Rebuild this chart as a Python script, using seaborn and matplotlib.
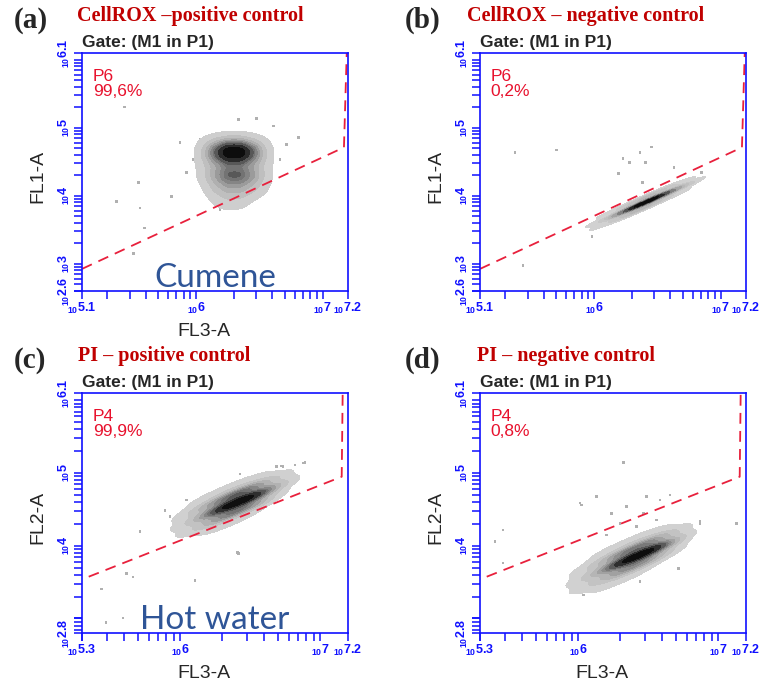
import numpy as np
import pandas as pd
import seaborn as sns
import matplotlib.pyplot as plt
from matplotlib.colors import LinearSegmentedColormap

sns.set_style("white")
plt.rcParams["font.family"] = ["Liberation Sans", "DejaVu Sans"]
plt.rcParams["mathtext.fontset"] = "custom"
plt.rcParams["mathtext.bf"] = "Liberation Sans:bold"
plt.rcParams["mathtext.rm"] = "Liberation Sans"

# density on a coarse grid (log10 units): x, y, weight
# (a) two stacked populations
a_x = [6.05, 6.15, 6.25, 6.35, 6.45, 6.55] * 6
a_y = ([4.80] * 6 + [4.65] * 6 + [4.50] * 6 + [4.30] * 6 + [4.10] * 6 + [3.90] * 6)
a_w = [0.4, 0.8, 1.2, 1.2, 0.8, 0.4,
       1.0, 5.0, 10.0, 10.0, 5.0, 1.0,
       0.8, 2.0, 3.0, 3.0, 2.0, 0.8,
       0.8, 3.0, 5.5, 5.5, 3.5, 1.0,
       0.3, 1.5, 2.5, 2.5, 1.5, 0.5,
       0.0, 0.5, 1.0, 0.8, 0.2, 0.0]

# (b) thin diagonal population: centre row, upper row, lower row
b_x = [6.0, 6.1, 6.2, 6.3, 6.4, 6.5, 6.6, 6.7, 6.8] * 3
b_y = [3.59, 3.67, 3.74, 3.82, 3.90, 3.98, 4.06, 4.13, 4.21,
       3.66, 3.74, 3.81, 3.89, 3.97, 4.05, 4.13, 4.20, 4.28,
       3.52, 3.60, 3.67, 3.75, 3.83, 3.91, 3.99, 4.06, 4.14]
b_w = [0.5, 1.0, 3.0, 7.0, 10.0, 8.0, 4.0, 1.5, 0.5,
       0.2, 0.4, 0.8, 1.5, 2.0, 1.8, 1.0, 0.5, 0.2,
       0.4, 0.6, 1.2, 2.0, 2.0, 1.5, 0.8, 0.4, 0.1]

# (c) broad diagonal population: centre, +1, -1, +2, -2 rows
c_x = [5.95, 6.05, 6.15, 6.25, 6.35, 6.45, 6.55, 6.65, 6.75, 6.85] * 5
c_y = [4.24, 4.31, 4.39, 4.47, 4.55, 4.63, 4.70, 4.78, 4.86, 4.94,
       4.36, 4.43, 4.51, 4.59, 4.67, 4.75, 4.82, 4.90, 4.98, 5.06,
       4.12, 4.19, 4.27, 4.35, 4.43, 4.51, 4.58, 4.66, 4.74, 4.82,
       4.48, 4.55, 4.63, 4.71, 4.79, 4.87, 4.94, 5.02, 5.10, 5.18,
       4.00, 4.07, 4.15, 4.23, 4.31, 4.39, 4.46, 4.54, 4.62, 4.70]
c_w = [0.3, 1.0, 2.5, 6.0, 9.0, 10.0, 7.0, 3.5, 1.0, 0.2,
       0.3, 0.8, 2.0, 3.5, 5.0, 5.0, 3.5, 1.5, 0.5, 0.1,
       0.2, 0.6, 1.5, 3.0, 4.5, 4.5, 3.0, 1.0, 0.3, 0.0,
       0.1, 0.3, 0.5, 0.7, 0.8, 0.7, 0.5, 0.3, 0.1, 0.0,
       0.0, 0.1, 0.3, 0.5, 0.6, 0.5, 0.3, 0.1, 0.0, 0.0]

# (d) diagonal population below the gate
d_x = [5.95, 6.05, 6.15, 6.25, 6.35, 6.45, 6.55, 6.65, 6.75, 6.85] * 5
d_y = [3.48, 3.56, 3.64, 3.72, 3.80, 3.88, 3.96, 4.03, 4.11, 4.19,
       3.60, 3.68, 3.76, 3.84, 3.92, 4.00, 4.08, 4.15, 4.23, 4.31,
       3.36, 3.44, 3.52, 3.60, 3.68, 3.76, 3.84, 3.91, 3.99, 4.07,
       3.72, 3.80, 3.88, 3.96, 4.04, 4.12, 4.20, 4.27, 4.35, 4.43,
       3.24, 3.32, 3.40, 3.48, 3.56, 3.64, 3.72, 3.79, 3.87, 3.95]
d_w = [0.4, 1.0, 2.5, 5.5, 9.0, 10.0, 8.0, 3.5, 0.8, 0.1,
       0.3, 0.7, 1.6, 3.2, 4.5, 4.5, 3.5, 1.5, 0.5, 0.1,
       0.3, 0.7, 1.4, 2.8, 3.8, 3.8, 2.6, 1.0, 0.3, 0.0,
       0.1, 0.2, 0.4, 0.6, 0.7, 0.7, 0.5, 0.3, 0.1, 0.0,
       0.1, 0.2, 0.4, 0.5, 0.5, 0.4, 0.2, 0.1, 0.0, 0.0]

# sparse events outside the main clouds
a_sx = [5.434, 5.544, 5.374, 5.558, 5.592, 5.808, 5.874, 6.479, 6.61, 6.808, 6.716,
        6.334, 6.032, 5.505, 5.927, 5.979, 6.663, 6.558, 6.19]
a_sy = [5.307, 4.20, 3.919, 3.82, 3.526, 3.993, 4.781, 5.14, 5.027, 4.855, 4.756,
        5.126, 4.83, 3.157, 4.338, 4.535, 4.535, 4.14, 3.796]
b_sx = [5.376, 5.706, 6.229, 6.363, 6.456, 5.44, 5.984, 6.279, 6.192, 6.408, 6.632, 6.384, 6.85]
b_sy = [4.638, 4.672, 4.55, 4.638, 4.717, 2.974, 3.402, 4.486, 4.324, 4.486, 4.421, 4.2, 4.338]
c_sx = [5.714, 5.619, 5.664, 5.441, 5.471, 5.593, 6.107, 6.409, 6.879, 6.736,
        6.429, 6.726, 6.821, 6.893, 5.893, 5.929, 6.048, 6.416, 6.69, 6.571]
c_sy = [4.193, 3.621, 3.57, 3.405, 2.942, 3.006, 3.519, 3.91, 5.138, 5.087,
        4.986, 5.096, 5.11, 5.142, 4.482, 4.40, 4.629, 3.896, 5.087, 4.927]
d_sx = [6.014, 6.491, 6.871, 7.134, 6.324, 5.407, 5.464, 5.464, 6.134, 6.026, 6.241,
        6.348, 6.466, 6.419, 6.562, 6.30, 6.586, 6.657, 6.871, 5.931, 6.038, 6.109,
        6.716, 6.443, 6.776, 6.014, 6.205]
d_sy = [4.588, 4.674, 4.33, 4.308, 5.147, 4.055, 3.763, 4.216, 4.674, 4.56, 4.446,
        4.537, 4.446, 4.262, 4.354, 4.308, 4.629, 4.698, 4.308, 3.437, 3.322, 3.529,
        3.69, 3.505, 4.171, 3.666, 4.148]

# gate polygons (log10 units)
gate_ab_x = [5.1, 7.168, 7.19]
gate_ab_y = [2.925, 4.712, 6.1]
gate_cd_x = [5.348, 7.155, 7.162]
gate_cd_y = [3.574, 4.949, 6.1]

letters = ["(a)", "(b)", "(c)", "(d)"]
titles = ["CellROX \u2013positive control", "CellROX \u2013 negative control",
          "PI \u2013 positive control", "PI \u2013 negative control"]
gate_names = ["P6", "P6", "P4", "P4"]
gate_pcts = ["99,6%", "0,2%", "99,9%", "0,8%"]
ylabels = ["FL1-A", "FL1-A", "FL2-A", "FL2-A"]
xlabels = ["FL3-A", "", "FL3-A", "FL3-A"]
notes = ["Cumene", "", "Hot water", ""]

BLUE = "#1010ff"
W, H = 762, 682
fig = plt.figure(figsize=(W / 100, H / 100), dpi=100)

boxes = [(82, 53, 348, 291), (480, 53, 746, 291), (82, 393, 348, 633), (480, 393, 746, 633)]
letter_pos = [(14, 20), (405, 20), (14, 360), (405, 360)]
title_pos = [(77, 16), (467, 16), (78, 356), (477, 356)]
xlims = [(5.1, 7.2), (5.1, 7.2), (5.3, 7.2), (5.3, 7.2)]
ylims = [(2.6, 6.1), (2.6, 6.1), (2.8, 6.1), (2.8, 6.1)]
clouds = [(a_x, a_y, a_w), (b_x, b_y, b_w), (c_x, c_y, c_w), (d_x, d_y, d_w)]
sparse = [(a_sx, a_sy), (b_sx, b_sy), (c_sx, c_sy), (d_sx, d_sy)]
gates = [(gate_ab_x, gate_ab_y), (gate_ab_x, gate_ab_y), (gate_cd_x, gate_cd_y), (gate_cd_x, gate_cd_y)]
bws = [0.7, 0.8, 0.72, 0.72]

cmap = LinearSegmentedColormap.from_list(
    "flow", ["#d6d6d6", "#b0b0b0", "#707070", "#282828", "#000000"])


def lab(v):
    return r"$_{\mathbf{10}}$" + ("%g" % v)


def log_ticks(lo, hi):
    t = []
    for d in range(2, 8):
        for k in range(1, 10):
            v = d + np.log10(k)
            if lo - 1e-6 <= v <= hi + 1e-6:
                t.append(v)
    return t


for i in range(4):
    x0, y0, x1, y1 = boxes[i]
    ax = fig.add_axes([x0 / W, 1 - y1 / H, (x1 - x0) / W, (y1 - y0) / H])
    cx, cy, cw = clouds[i]
    df = pd.DataFrame({"x": cx, "y": cy, "w": cw})
    sx, sy = sparse[i]
    sns.scatterplot(x=sx, y=sy, ax=ax, marker="s", s=4, color="#b0b0b0",
                    edgecolor="none", linewidth=0)
    sns.kdeplot(data=df, x="x", y="y", weights="w", fill=True, levels=10,
                thresh=0.04, cmap=cmap, bw_adjust=bws[i], ax=ax)
    gx, gy = gates[i]
    ax.plot(gx, gy, color="#e8203c", lw=1.3, dashes=(6, 4))

    lo, hi = xlims[i]
    ax.set_xlim(lo, hi)
    xmaj = [lo, 6, 7, hi]
    ax.set_xticks(xmaj)
    ax.set_xticklabels([lab(v) for v in xmaj])
    ax.set_xticks([v for v in log_ticks(lo, hi) if v not in xmaj], minor=True)

    ylo, yhi = ylims[i]
    ax.set_ylim(ylo, yhi)
    ymaj = [ylo, 3, 4, 5, yhi] if ylo < 2.7 else [ylo, 4, 5, yhi]
    ax.set_yticks(ymaj)
    ax.set_yticklabels([lab(v) for v in ymaj], rotation=90, va="center")
    ax.set_yticks([v for v in log_ticks(ylo, yhi) + [3] if v not in ymaj], minor=True)

    ax.tick_params(which="both", direction="out", length=6, width=1.1, color=BLUE,
                   labelcolor=BLUE, labelsize=9, pad=1, bottom=True, left=True)
    for t in ax.get_xticklabels() + ax.get_yticklabels():
        t.set_fontweight("bold")
    for sp in ax.spines.values():
        sp.set_color(BLUE)
        sp.set_linewidth(1.2)
    ax.set_xlabel(xlabels[i], fontsize=14, labelpad=5, x=0.46)
    ax.set_ylabel(ylabels[i], fontsize=14, labelpad=8, y=0.48)

    ax.text(0.04, 0.903, gate_names[i], transform=ax.transAxes, color="#e8112d",
            fontsize=12.5, va="center")
    ax.text(0.04, 0.84, gate_pcts[i], transform=ax.transAxes, color="#e8112d",
            fontsize=12.5, va="center")
    ax.text(0, 1.012, "Gate: (M1 in P1)", transform=ax.transAxes, fontsize=12.5,
            fontweight="bold", va="bottom", ha="left")
    if notes[i]:
        ax.text(0.5, 0.055, notes[i], transform=ax.transAxes, color="#2f5597",
                fontsize=24, family="Lato", ha="center", va="center")

    lx, ly = letter_pos[i]
    fig.text(lx / W, 1 - ly / H, letters[i], fontsize=21, fontweight="bold",
             family="Liberation Serif", va="center", ha="left")
    tx, ty = title_pos[i]
    fig.text(tx / W, 1 - ty / H, titles[i], fontsize=14.5, fontweight="bold",
             family="Liberation Serif", color="#c00000", va="center", ha="left")

fig.savefig("out.png", dpi=100)
